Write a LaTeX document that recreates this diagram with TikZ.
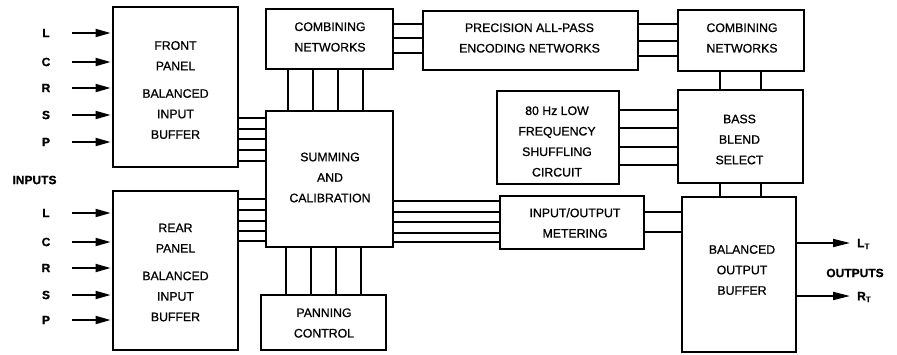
\documentclass[tikz,border=0pt]{standalone}
\usepackage{fontspec}
\setmainfont{Liberation Sans}[FakeBold=0.8]
\usetikzlibrary{arrows.meta}
\begin{document}
\begin{tikzpicture}[x=1pt,y=-1pt,
  box/.style={draw, line width=1.8pt, inner sep=0pt},
  txt/.style={align=center, inner sep=0pt, font=\fontsize{12.3}{20.5}\selectfont},
  wire/.style={line width=1.4pt},
  lbl/.style={inner sep=0pt, font=\bfseries\fontsize{12}{14}\selectfont},
  inarrow/.style={line width=1.8pt, -{Triangle[length=15pt,width=8pt]}, shorten >=1.5pt},
  outarrow/.style={line width=1.8pt, -{Triangle[length=17pt,width=8pt]}}
]
\useasboundingbox (0,0) rectangle (897,354);

% boxes
\node[box, minimum width=125pt, minimum height=160pt] (front) at (175.5,87) {};
\node[box, minimum width=125pt, minimum height=159pt] (rear) at (175.5,270.5) {};
\node[box, minimum width=127pt, minimum height=136pt] (sum) at (329.5,179) {};
\node[box, minimum width=127pt, minimum height=60pt] (comb1) at (329.5,39) {};
\node[box, minimum width=215pt, minimum height=59pt] (prec) at (530.5,40.5) {};
\node[box, minimum width=126pt, minimum height=61pt] (comb2) at (741,40.5) {};
\node[box, minimum width=122pt, minimum height=93pt] (lowf) at (558,137.5) {};
\node[box, minimum width=125pt, minimum height=93pt] (bass) at (740.5,136.5) {};
\node[box, minimum width=144pt, minimum height=53pt] (meter) at (572,222.5) {};
\node[box, minimum width=114pt, minimum height=155pt] (out) at (739,274.5) {};
\node[box, minimum width=125pt, minimum height=55pt] (pan) at (323.5,322.5) {};

% texts
\node[txt] (frontT) at (175.5,90) {FRONT\\PANEL\\[7pt]BALANCED\\INPUT\\BUFFER};
\node[txt] (rearT) at (175.5,272.5) {REAR\\PANEL\\[7pt]BALANCED\\INPUT\\BUFFER};
\node[txt] (sumT) at (330,177.5) {SUMMING\\AND\\CALIBRATION};
\node[txt] (comb1T) at (330,37) {COMBINING\\NETWORKS};
\node[txt] (precT) at (529.5,38) {PRECISION ALL-PASS\\ENCODING NETWORKS};
\node[txt] (comb2T) at (742,38) {COMBINING\\NETWORKS};
\node[txt] (lowfT) at (557,141.5) {80 Hz LOW\\FREQUENCY\\SHUFFLING\\CIRCUIT};
\node[txt] (bassT) at (739.5,139.5) {BASS\\BLEND\\SELECT};
\node[txt] (meterT) at (575,223) {INPUT/OUTPUT\\METERING};
\node[txt] (outT) at (742,270) {BALANCED\\OUTPUT\\BUFFER};
\node[txt] (panT) at (324,323) {PANNING\\CONTROL};

% input labels and arrows
\foreach \n/\t/\y in {fl/L/33, fc/C/62, fr/R/88, fs/S/115, fp/P/142,
                      rl/L/213, rc/C/242, rr/R/268, rs/S/295, rp/P/320}{
  \node[lbl] (\n) at (46,\y) {\t};
  \coordinate (\n a) at (72,\y);
}
\foreach \n in {fl,fc,fr,fs,fp}{\draw[inarrow] (\n a) -- (front.west |- \n a);}
\foreach \n in {rl,rc,rr,rs,rp}{\draw[inarrow] (\n a) -- (rear.west |- \n a);}
\node[lbl] (inputs) at (34.5,180) {INPUTS};

% front/rear to summing
\foreach \y in {118,129,139,150,161}{\draw[wire] (front.east |- 0,\y) -- (sum.west |- 0,\y);}
\foreach \y in {199,210,221,231,241}{\draw[wire] (rear.east |- 0,\y) -- (sum.west |- 0,\y);}
% combining to summing
\foreach \x in {288,313,338,363}{\draw[wire] (comb1.south -| \x,0) -- (sum.north -| \x,0);}
% summing to panning
\foreach \x in {286,311,336,361}{\draw[wire] (sum.south -| \x,0) -- (pan.north -| \x,0);}
% combining to precision
\foreach \y in {24,38,53}{\draw[wire] (comb1.east |- 0,\y) -- (prec.west |- 0,\y);}
% precision to combining 2
\foreach \y in {24,41,56}{\draw[wire] (prec.east |- 0,\y) -- (comb2.west |- 0,\y);}
% combining 2 to bass
\foreach \x in {720,761}{\draw[wire] (comb2.south -| \x,0) -- (bass.north -| \x,0);}
% low freq to bass
\foreach \y in {110,128,147,165}{\draw[wire] (lowf.east |- 0,\y) -- (bass.west |- 0,\y);}
% bass to output
\foreach \x in {720,761}{\draw[wire] (bass.south -| \x,0) -- (out.north -| \x,0);}
% summing to metering
\foreach \y in {201,212,222,233,242}{\draw[wire] (sum.east |- 0,\y) -- (meter.west |- 0,\y);}
% metering to output
\foreach \y in {212,232}{\draw[wire] (meter.east |- 0,\y) -- (out.west |- 0,\y);}

% outputs
\coordinate (lta) at (850,243);
\coordinate (rta) at (850,296);
\draw[outarrow] (out.east |- lta) -- (lta);
\draw[outarrow] (out.east |- rta) -- (rta);
\node[lbl, anchor=west] (lt) at (857,244) {L\textsubscript{T}};
\node[lbl, anchor=west] (rt) at (857,297) {R\textsubscript{T}};
\node[lbl] (outputs) at (855,273) {OUTPUTS};
\end{tikzpicture}
\end{document}
